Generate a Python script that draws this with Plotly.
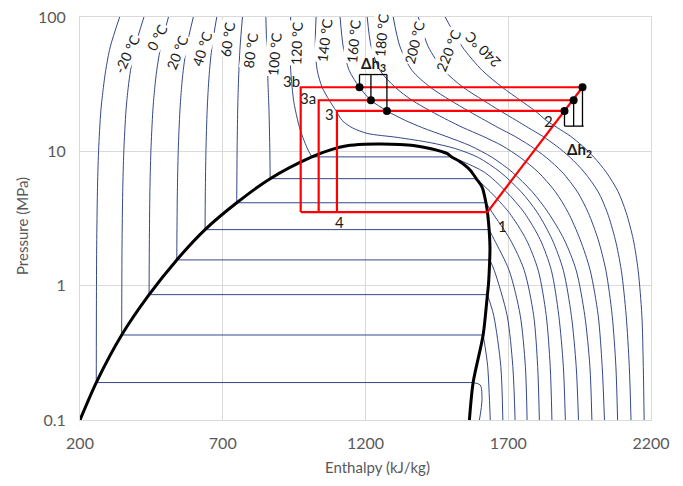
import plotly.graph_objects as go

# ---------------- data (enthalpy kJ/kg, pressure MPa) ----------------
# saturation dome
DOME_H = [200, 257, 346, 442, 539, 638, 749, 866, 1012, 1080, 1135, 1195, 1255, 1320, 1368,
          1430, 1485, 1502, 1530, 1567, 1588, 1608, 1622, 1628, 1633, 1636, 1635, 1631, 1627,
          1612, 1577, 1564]
DOME_P = [0.1, 0.19, 0.4294, 0.8575, 1.555, 2.614, 4.14, 6.26, 9.09, 10.3, 11.0, 11.3, 11.35,
          11.25, 11.05, 10.45, 9.64, 9.09, 8.4, 7.24, 6.26, 5.44, 4.14, 3.4, 2.614, 1.9, 1.555,
          1.04, 0.8575, 0.4294, 0.19, 0.1]

# sub-critical isotherms: liquid branch and vapour branch
TM20_LIQ_H = [339, 306, 290, 282, 273, 265, 261, 258.5, 257.7, 257]
TM20_LIQ_P = [100, 60, 40, 30, 20, 10, 5, 2, 1, 0.19]
TM20_VAP_H = [1577, 1602, 1608, 1599]
TM20_VAP_P = [0.19, 0.182, 0.141, 0.1]

T0_LIQ_H = [424, 393, 377, 369, 361, 353.5, 349.6, 347.2, 346.5, 346]
T0_LIQ_P = [100, 60, 40, 30, 20, 10, 5, 2, 1, 0.4294]
T0_VAP_H = [1612, 1619, 1628, 1637]
T0_VAP_P = [0.4294, 0.35, 0.25, 0.1]

T20_LIQ_H = [510, 482.6, 468.8, 462, 455.1, 448.3, 444.8, 442.8, 442]
T20_LIQ_P = [100, 60, 40, 30, 20, 10, 5, 2, 0.8575]
T20_VAP_H = [1627, 1649, 1674, 1681]
T20_VAP_P = [0.8575, 0.6, 0.25, 0.1]

T40_LIQ_H = [597, 573.4, 561.6, 555.8, 549.9, 544, 541, 539.9, 539]
T40_LIQ_P = [100, 60, 40, 30, 20, 10, 5, 3, 1.555]
T40_VAP_H = [1635, 1651, 1696, 1716, 1724]
T40_VAP_P = [1.555, 1.3, 0.6, 0.25, 0.1]

T60_LIQ_H = [679, 662.2, 653.7, 649.5, 645.3, 641.1, 639, 638]
T60_LIQ_P = [100, 60, 40, 30, 20, 10, 5, 2.614]
T60_VAP_H = [1633, 1651, 1703, 1742, 1760, 1766]
T60_VAP_P = [2.614, 2.2, 1.3, 0.6, 0.25, 0.1]

T80_LIQ_H = [769, 760.7, 756.5, 754.4, 752.3, 750.2, 749]
T80_LIQ_P = [100, 60, 40, 30, 20, 10, 4.14]
T80_VAP_H = [1622, 1644, 1707, 1756, 1789, 1803, 1809]
T80_VAP_P = [4.14, 3.5, 2.2, 1.3, 0.6, 0.25, 0.1]

T100_LIQ_H = [851, 854, 857, 859, 862, 865, 866]
T100_LIQ_P = [100, 60, 40, 30, 20, 10, 6.26]
T100_VAP_H = [1588, 1637, 1703, 1763, 1805, 1833, 1847, 1853]
T100_VAP_P = [6.26, 5, 3.5, 2.2, 1.3, 0.6, 0.25, 0.1]

T120_LIQ_H = [938, 936, 938, 943, 948, 955, 969, 985, 1001, 1012]
T120_LIQ_P = [100, 60, 40, 30, 24, 20, 15, 12, 10, 9.09]
T120_VAP_H = [1502, 1616, 1693, 1756, 1812, 1851, 1877, 1893, 1900]
T120_VAP_P = [9.09, 7, 5, 3.5, 2.2, 1.3, 0.6, 0.25, 0.1]

# super-critical isotherms
T140_H = [1027, 1024, 1031, 1048, 1073, 1097, 1118, 1153, 1206, 1311, 1427, 1514, 1595, 1672,
          1745, 1802, 1854, 1893, 1921, 1938, 1946]
T140_P = [100, 60, 40, 30, 24, 20, 17, 15, 13.6, 12.7, 11.6, 10.5, 9, 7, 5, 3.5, 2.2, 1.3,
          0.6, 0.25, 0.1]
SC_P = [100, 60, 40, 30, 24, 20, 17, 15, 13, 11, 9, 7, 5, 3.5, 2.2, 1.3, 0.6, 0.25, 0.1]
T160_H = [1111, 1122, 1143, 1179, 1219, 1275, 1339, 1399, 1479, 1567, 1644, 1714, 1784, 1840,
          1896, 1938, 1968, 1986, 1993]
T180_H = [1206, 1220, 1251, 1304, 1363, 1427, 1490, 1542, 1609, 1679, 1742, 1805, 1865, 1910,
          1952, 1987, 2015, 2029, 2037]
T200_H = [1297, 1321, 1363, 1427, 1497, 1560, 1619, 1665, 1721, 1777, 1833, 1889, 1942, 1980,
          2015, 2042, 2064, 2077, 2083]
T220_H = [1385, 1420, 1475, 1542, 1612, 1672, 1728, 1770, 1819, 1868, 1917, 1966, 2015, 2047,
          2075, 2096, 2113, 2124, 2130]
T240_H = [1479, 1539, 1609, 1679, 1742, 1794, 1833, 1872, 1917, 1959, 2001, 2043, 2085, 2113,
          2138, 2155, 2168, 2173, 2176]

ISO_LABELS = ["-20 °C", "0 °C", "20 °C", "40 °C", "60 °C", "80 °C", "100 °C", "120 °C",
              "140 °C", "160 °C", "180 °C", "200 °C", "220 °C", "240 °C"]

# cycle
P_LOW = 3.53
H1 = 1627
H_LEFT = [973, 1036, 1100]        # 3b, 3a, 3 expansion lines
P_HIGH = [30, 24, 20]
H_RIGHT = [1960, 1929, 1897]      # compressor outlets
H_DOT3 = [1179, 1219, 1275]       # gas-cooler points
P_BR3 = 37.3
P_BR2 = 15.4

# ---------------- figure ----------------
ISO_COLOR = "#34488A"
fig = go.Figure()


def line(h, p, color=ISO_COLOR, width=1.0, shape="spline"):
    fig.add_trace(go.Scatter(x=h, y=p, mode="lines", hoverinfo="skip", showlegend=False,
                             line=dict(color=color, width=width, shape=shape, smoothing=0.8)))


subcrit = [(TM20_LIQ_H, TM20_LIQ_P, TM20_VAP_H, TM20_VAP_P),
           (T0_LIQ_H, T0_LIQ_P, T0_VAP_H, T0_VAP_P),
           (T20_LIQ_H, T20_LIQ_P, T20_VAP_H, T20_VAP_P),
           (T40_LIQ_H, T40_LIQ_P, T40_VAP_H, T40_VAP_P),
           (T60_LIQ_H, T60_LIQ_P, T60_VAP_H, T60_VAP_P),
           (T80_LIQ_H, T80_LIQ_P, T80_VAP_H, T80_VAP_P),
           (T100_LIQ_H, T100_LIQ_P, T100_VAP_H, T100_VAP_P),
           (T120_LIQ_H, T120_LIQ_P, T120_VAP_H, T120_VAP_P)]
for lh, lp, vh, vp in subcrit:
    line(lh, lp)
    line([lh[-1], vh[0]], [lp[-1], vp[0]], shape="linear")
    line(vh, vp)

line(T140_H, T140_P)
for hs in (T160_H, T180_H, T200_H, T220_H, T240_H):
    line(hs, SC_P)

# dome
line(DOME_H, DOME_P, color="black", width=3)

# red cycle
RED = "#FF0000"
line([H_LEFT[0], H1], [P_LOW, P_LOW], color=RED, width=2.2, shape="linear")
for hl, ph, hr in zip(H_LEFT, P_HIGH, H_RIGHT):
    line([hl, hl, hr], [P_LOW, ph, ph], color=RED, width=2.2, shape="linear")
line([H1, H_RIGHT[0]], [P_LOW, P_HIGH[0]], color=RED, width=2.2, shape="linear")

# brackets
line([H_DOT3[0], H_DOT3[-1]], [P_BR3, P_BR3], color="black", width=1.3, shape="linear")
for hd, ph in zip(H_DOT3, P_HIGH):
    line([hd, hd], [P_BR3, ph], color="black", width=1.3, shape="linear")
line([H_RIGHT[-1], H_RIGHT[0] + 4], [P_BR2, P_BR2], color="black", width=1.3, shape="linear")
for hr, ph in zip(H_RIGHT, P_HIGH):
    line([hr, hr], [P_BR2, ph], color="black", width=1.3, shape="linear")

# dots
fig.add_trace(go.Scatter(x=H_DOT3 + H_RIGHT, y=P_HIGH + P_HIGH, mode="markers",
                         marker=dict(color="black", size=8), hoverinfo="skip", showlegend=False))

# ---------------- annotations ----------------
L, T, W, H = 80, 17, 571, 403


def px(x):
    return (x - L) / W


def py(y):
    return (T + H - y) / H


iso_pos = [(127.5, 54), (156.7, 37), (176.7, 52), (202.5, 49), (228, 39), (250, 50), (275, 54),
           (296, 43), (325, 40), (353, 41), (382, 35), (414, 42), (448, 50), (482, 50)]
iso_ang = [-65, -62, -68, -72, -82, -82, -85, -88, -83, -85, -85, -76, -68, -135]
ann = []
for txt, (x, y), a in zip(ISO_LABELS, iso_pos, iso_ang):
    ann.append(dict(text=txt, x=px(x), y=py(y), xref="paper", yref="paper", showarrow=False,
                    textangle=a, font=dict(size=14, color="#1a1a1a"), bgcolor="white",
                    borderpad=0, xanchor="center", yanchor="middle"))

pt_labels = [("3b", 291, 81), ("3a", 308, 98), ("3", 329.5, 114), ("4", 339, 222),
             ("1", 502, 226), ("2", 548.5, 121),
             ("<b>Δh<sub>3</sub></b>", 373, 64), ("<b>Δh<sub>2</sub></b>", 579, 150)]
for txt, x, y in pt_labels:
    ann.append(dict(text=txt, x=px(x), y=py(y), xref="paper", yref="paper", showarrow=False,
                    font=dict(size=15, color="#1a1a1a"), xanchor="center", yanchor="middle"))

ann.append(dict(text="Enthalpy (kJ/kg)", x=px(377), y=py(467), xref="paper", yref="paper",
                showarrow=False, font=dict(size=15, color="#595959"),
                xanchor="center", yanchor="middle"))
ann.append(dict(text="Pressure (MPa)", x=px(22), y=py(226), xref="paper", yref="paper",
                showarrow=False, textangle=-90, font=dict(size=15, color="#595959"),
                xanchor="center", yanchor="middle"))

GRID = "#D9D9D9"
fig.update_layout(
    width=683, height=486,
    margin=dict(l=L, r=683 - L - W, t=T, b=486 - T - H, autoexpand=False),
    paper_bgcolor="white", plot_bgcolor="white",
    font=dict(family="Lato, Carlito, 'Liberation Sans', sans-serif"),
    showlegend=False,
    annotations=ann,
    xaxis=dict(range=[200, 2200], tickvals=[200, 700, 1200, 1700, 2200],
               showgrid=True, gridcolor=GRID, gridwidth=1, zeroline=False,
               showline=True, linecolor=GRID, linewidth=1, mirror=True,
               ticks="", tickfont=dict(size=16, color="#595959"), ticklabelstandoff=9),
    yaxis=dict(type="log", range=[-1, 2], tickvals=[0.1, 1, 10, 100],
               ticktext=["0.1", "1", "10", "100"],
               showgrid=True, gridcolor=GRID, gridwidth=1, zeroline=False,
               showline=True, linecolor=GRID, linewidth=1, mirror=True,
               ticks="", tickfont=dict(size=16, color="#595959"), ticklabelstandoff=10),
)

fig.write_html("out.html",
               config={"displayModeBar": False, "staticPlot": True},
               post_script="document.body.style.margin='0px';"
                           "document.body.style.overflow='hidden';")
